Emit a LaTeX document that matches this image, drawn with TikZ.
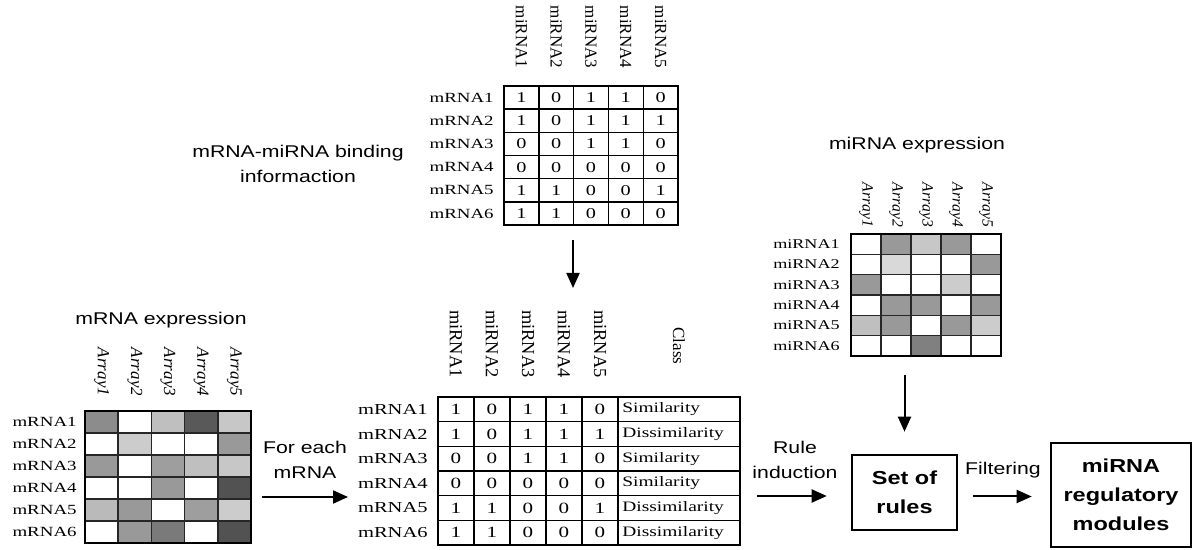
\documentclass[tikz,border=0pt]{standalone}
\usepackage{fontspec}
\setmainfont{Liberation Serif}[FakeStretch=1.35]
\setsansfont{Liberation Sans}[FakeStretch=1.25]
\newfontfamily\upright{Liberation Serif}
\usetikzlibrary{arrows.meta, positioning}

\tikzset{
  flow/.style={line width=1pt, -{Triangle[length=7.5pt,width=6.5pt]}},
  rowlab/.style={anchor=east, inner sep=0pt, font=\fontsize{7}{8}\selectfont},
  collab/.style={rotate=-90, inner sep=0pt, font=\upright\fontsize{8.5}{9}\selectfont},
  arraylab/.style={rotate=-90, inner sep=0pt, font=\upright\itshape\fontsize{8.5}{9}\selectfont},
  bit/.style={inner sep=0pt, font=\fontsize{7.5}{8}\selectfont},
  classlab/.style={anchor=west, inner sep=0pt, font=\fontsize{7.2}{8}\selectfont},
  caption/.style={align=center, inner sep=0pt, font=\sffamily\fontsize{8.5}{12.5}\selectfont},
  stepbox/.style={draw, line width=1.3pt, align=center, inner sep=0pt,
    font=\sffamily\bfseries\fontsize{9.4}{14.5}\selectfont}
}

\begin{document}
\begin{tikzpicture}[x=0.5pt, y=-0.5pt]
  \useasboundingbox (0,0) rectangle (1200,550);

  % binding matrix (top)
  \foreach \row [count=\r] in {{1,0,1,1,0},{1,0,1,1,1},{0,0,1,1,0},{0,0,0,0,0},{1,1,0,0,1},{1,1,0,0,0}} {
    \node[rowlab] (b-lab-\r) at (494, {86+(\r-0.5)*23.2}) {mRNA\r};
    \foreach \v [count=\c] in \row
      \node[bit] (b-\r-\c) at ({504+(\c-0.5)*34.8}, {86+(\r-0.5)*23.2}) {\v};
  }
  \foreach \c in {1,...,5}
    \node[collab] (b-h-\c) at ({504+(\c-0.5)*34.8}, 37) {miRNA\c};
  \foreach \c in {1,...,4}
    \draw[line width=0.7pt] ({504+\c*34.8}, 86) -- ({504+\c*34.8}, 225.2);
  \foreach \r in {1,...,5}
    \draw[line width=0.7pt] (504, {86+\r*23.2}) -- (678, {86+\r*23.2});
  \draw[line width=1.1pt] (504,86) rectangle (678,225.2);

  \node[caption] (bind-cap) at (298,164) {mRNA-miRNA binding\\informaction};

  % class matrix (middle)
  \foreach \row/\cls [count=\r] in {{1,0,1,1,0}/Similarity,{1,0,1,1,1}/Dissimilarity,{0,0,1,1,0}/Similarity,
      {0,0,0,0,0}/Similarity,{1,1,0,0,1}/Dissimilarity,{1,1,0,0,0}/Dissimilarity} {
    \node[rowlab, font=\fontsize{7.6}{8}\selectfont] (c-lab-\r) at (428, {397+(\r-0.5)*24.67}) {mRNA\r};
    \foreach \v [count=\c] in \row
      \node[bit, font=\fontsize{7.8}{8}\selectfont] (c-\r-\c) at ({438+(\c-0.5)*36}, {397+(\r-0.5)*24.67}) {\v};
    \node[classlab] (c-cls-\r) at (622, {397+(\r-0.5)*24.67}) {\cls};
  }
  \foreach \c in {1,...,5}
    \node[collab, font=\upright\fontsize{9.2}{10}\selectfont] (c-h-\c) at ({438+(\c-0.5)*36}, 344) {miRNA\c};
  \node[collab] (c-h-cls) at (679, 346) {Class};
  \foreach \c in {1,...,5}
    \draw[line width=0.7pt] ({438+\c*36}, 397) -- ({438+\c*36}, 545);
  \foreach \r in {1,...,5}
    \draw[line width=0.7pt] (438, {397+\r*24.67}) -- (740, {397+\r*24.67});
  \draw[line width=1.1pt] (438,397) rectangle (740,545);

  % mRNA expression
  \node[caption] (mexp-cap) at (161,320) {mRNA expression};
  \foreach \row [count=\r] in {{45,0,25,65,22},{0,20,0,0,40},{40,0,38,25,22},{0,0,40,0,68},{27,40,0,38,20},{0,40,52,0,68}} {
    \node[rowlab] (m-lab-\r) at (77, {411+(\r-0.5)*22}) {mRNA\r};
    \foreach \v [count=\c] in \row
      \filldraw[fill=black!\v, draw=black!85, line width=0.8pt]
        ({85+(\c-1)*33.2}, {411+(\r-1)*22}) rectangle ({85+\c*33.2}, {411+\r*22});
  }
  \foreach \c in {1,...,5}
    \node[arraylab] (m-h-\c) at ({85+(\c-0.5)*33.2}, 372) {Array\c};
  \draw[line width=1.1pt] (85,411) rectangle (251,543);

  % miRNA expression
  \node[caption] (miexp-cap) at (917,145) {miRNA expression};
  \foreach \row [count=\r] in {{0,40,22,40,0},{0,15,0,0,40},{40,0,0,20,0},{0,40,40,0,40},{25,40,0,40,20},{0,0,50,0,0}} {
    \node[rowlab, font=\fontsize{6.7}{8}\selectfont] (mi-lab-\r) at (840, {234+(\r-0.5)*20.33}) {miRNA\r};
    \foreach \v [count=\c] in \row
      \filldraw[fill=black!\v, draw=black!85, line width=0.8pt]
        ({851+(\c-1)*30}, {234+(\r-1)*20.33}) rectangle ({851+\c*30}, {234+\r*20.33});
  }
  \foreach \c in {1,...,5}
    \node[arraylab, font=\upright\itshape\fontsize{7.8}{8}\selectfont] (mi-h-\c) at ({851+(\c-0.5)*30}, 205) {Array\c};
  \draw[line width=1.1pt] (851,234) rectangle (1001,356);

  % boxes
  \node[stepbox, minimum width=52.5pt, minimum height=37.5pt] (rules) at (904.5,492.5) {Set of\\rules};
  \node[stepbox, minimum width=70pt, minimum height=52pt] (mods) at (1121,495) {miRNA\\regulatory\\modules};

  % arrows
  \coordinate (bind-out) at (573,240);
  \coordinate (cls-in) at (573,288);
  \draw[flow] (bind-out) -- (cls-in);

  \coordinate (fe-a) at (262,497);
  \coordinate (fe-b) at (348,497);
  \draw[flow] (fe-a) -- (fe-b);
  \node[caption] (fe-lab) at (305,460) {For each\\mRNA};

  \coordinate (ri-a) at (757,496);
  \draw[flow, shorten >=12pt] (ri-a) -- (ri-a -| rules.west);
  \node[caption] (ri-lab) at (795,460) {Rule\\induction};

  \coordinate (mi-out) at (904.5,375);
  \draw[flow, shorten >=11pt] (mi-out) -- (rules.north);

  \draw[flow, shorten <=7.5pt, shorten >=9pt] ([yshift=-2pt]rules.east) -- ([yshift=-2pt]rules.east -| mods.west);
  \node[caption] (filt-lab) at (1003,470) {Filtering};
\end{tikzpicture}
\end{document}
